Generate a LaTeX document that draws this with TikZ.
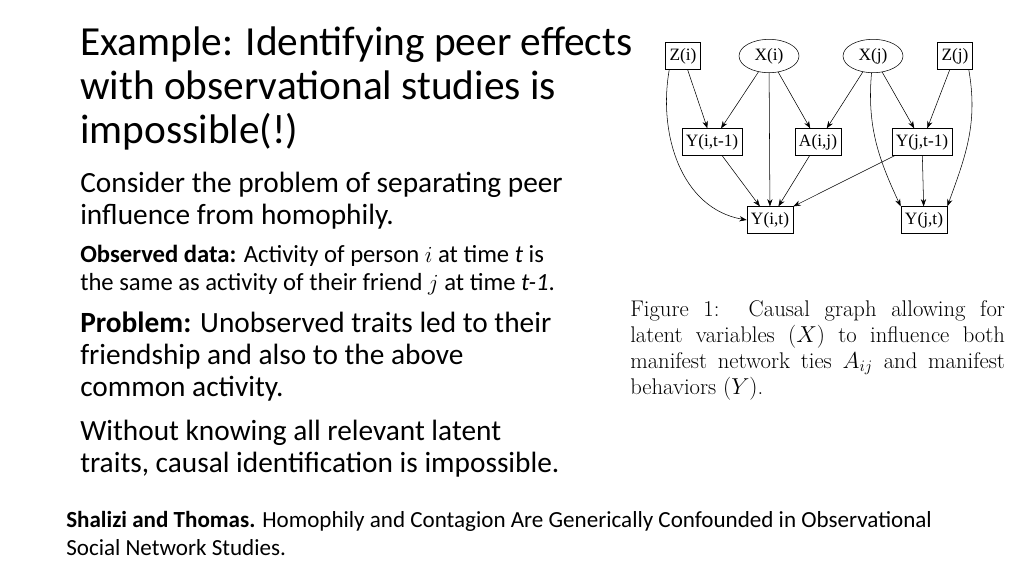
\documentclass[tikz,border=0pt]{standalone}
\usepackage{fontspec}
\setmainfont{Carlito}
\newfontfamily\graphfont{Liberation Serif}
\newfontfamily\lmfont{Latin Modern Roman}
\usetikzlibrary{arrows.meta, shapes.geometric}

\begin{document}
\begin{tikzpicture}[x=0.75pt, y=-0.75pt]
		% Define styles for the text and the graph
		\tikzset{txt/.style={anchor=base west, inner sep=0pt}}
		\tikzset{box/.style={rectangle, draw, font=\graphfont\fontsize{13}{15}\selectfont, inner sep=3pt, minimum height=20pt, line width=0.4pt}}
		\tikzset{oval/.style={ellipse, draw, font=\graphfont\fontsize{13}{15}\selectfont, minimum width=45pt, minimum height=25pt, inner sep=0pt}}
		\tikzset{arrow/.style={-{Stealth[length=5.5pt, width=4pt]}, line width=0.4pt}}
		\useasboundingbox (0,0) rectangle (1024,576);
		
		% Title and body text
		\node[txt, font=\fontsize{31}{33}\selectfont] (t1) at (80,55) {Example: Identifying peer effects};
		\node[txt, font=\fontsize{31}{33}\selectfont] (t2) at (80,99) {with observational studies is};
		\node[txt, font=\fontsize{31}{33}\selectfont] (t3) at (80,143) {impossible(!)};
		\node[txt, font=\fontsize{22}{24}\selectfont] (b1) at (80,192) {Consider the problem of separating peer};
		\node[txt, font=\fontsize{22}{24}\selectfont] (b2) at (80,224) {influence from homophily.};
		\node[txt, font=\fontsize{18.5}{20}\selectfont] (o1) at (80,262) {\textbf{Observed data:} Activity of person $i$ at time \textit{t} is};
		\node[txt, font=\fontsize{18.5}{20}\selectfont] (o2) at (80,290) {the same as activity of their friend $j$ at time \textit{t-1}.};
		\node[txt, font=\fontsize{22}{24}\selectfont] (p1) at (80,332) {\textbf{Problem:} Unobserved traits led to their};
		\node[txt, font=\fontsize{22}{24}\selectfont] (p2) at (80,364) {friendship and also to the above};
		\node[txt, font=\fontsize{22}{24}\selectfont] (p3) at (80,396) {common activity.};
		\node[txt, font=\fontsize{22}{24}\selectfont] (w1) at (80,440) {Without knowing all relevant latent};
		\node[txt, font=\fontsize{22}{24}\selectfont] (w2) at (80,472) {traits, causal identification is impossible.};
		\node[txt, font=\fontsize{17.3}{20}\selectfont] (f1) at (66,527) {\textbf{Shalizi and Thomas.} Homophily and Contagion Are Generically Confounded in Observational};
		\node[txt, font=\fontsize{17.3}{20}\selectfont] (f2) at (66,555) {Social Network Studies.};
		
		% Caption
		\node[anchor=north west, inner sep=0pt, text width=281pt, align=justify,
		      font=\lmfont\fontsize{17}{19.5}\selectfont] (cap) at (630,300)
		      {Figure 1:\ \ Causal graph allowing for\linebreak latent variables $(X)$ to influence both\linebreak manifest network ties $A_{ij}$ and manifest\linebreak behaviors $(Y)$.};
		
		% Define the nodes of the graph
		\node[box] (zi) at (683,56) {Z(i)};
		\node[oval] (xi) at (769,56) {X(i)};
		\node[oval] (xj) at (873,56) {X(j)};
		\node[box] (zj) at (955,56) {Z(j)};
		\node[box] (yi1) at (712,142) {Y(i,t-1)};
		\node[box] (aij) at (818,142) {A(i,j)};
		\node[box] (yj1) at (922,142) {Y(j,t-1)};
		\node[box] (yit) at (770,220) {Y(i,t)};
		\node[box] (yjt) at (924,220) {Y(j,t)};
		
		% Draw arrows between the nodes
		\draw[arrow] (zi) -- (yi1);
		\draw[arrow] (zi.south west) ++(4,0) to[out=-100, in=170] (yit.west);
		\draw[arrow] (xi) -- (yi1);
		\draw[arrow] (xi) -- (yit);
		\draw[arrow] (xi) -- (aij);
		\draw[arrow] (xj) -- (aij);
		\draw[arrow] (xj) -- (yj1);
		\draw[arrow] (xj) to[out=-95, in=115] (yjt.north west);
		\draw[arrow] (zj) -- (yj1);
		\draw[arrow] (zj.south east) ++(-4,0) to[out=-80, in=70] (yjt.north east);
		\draw[arrow] (yi1) -- (yit);
		\draw[arrow] (aij) -- (yit);
		\draw[arrow] (yj1) -- (yit.north east);
		\draw[arrow] (yj1) -- (yjt);
	\end{tikzpicture}
\end{document}
